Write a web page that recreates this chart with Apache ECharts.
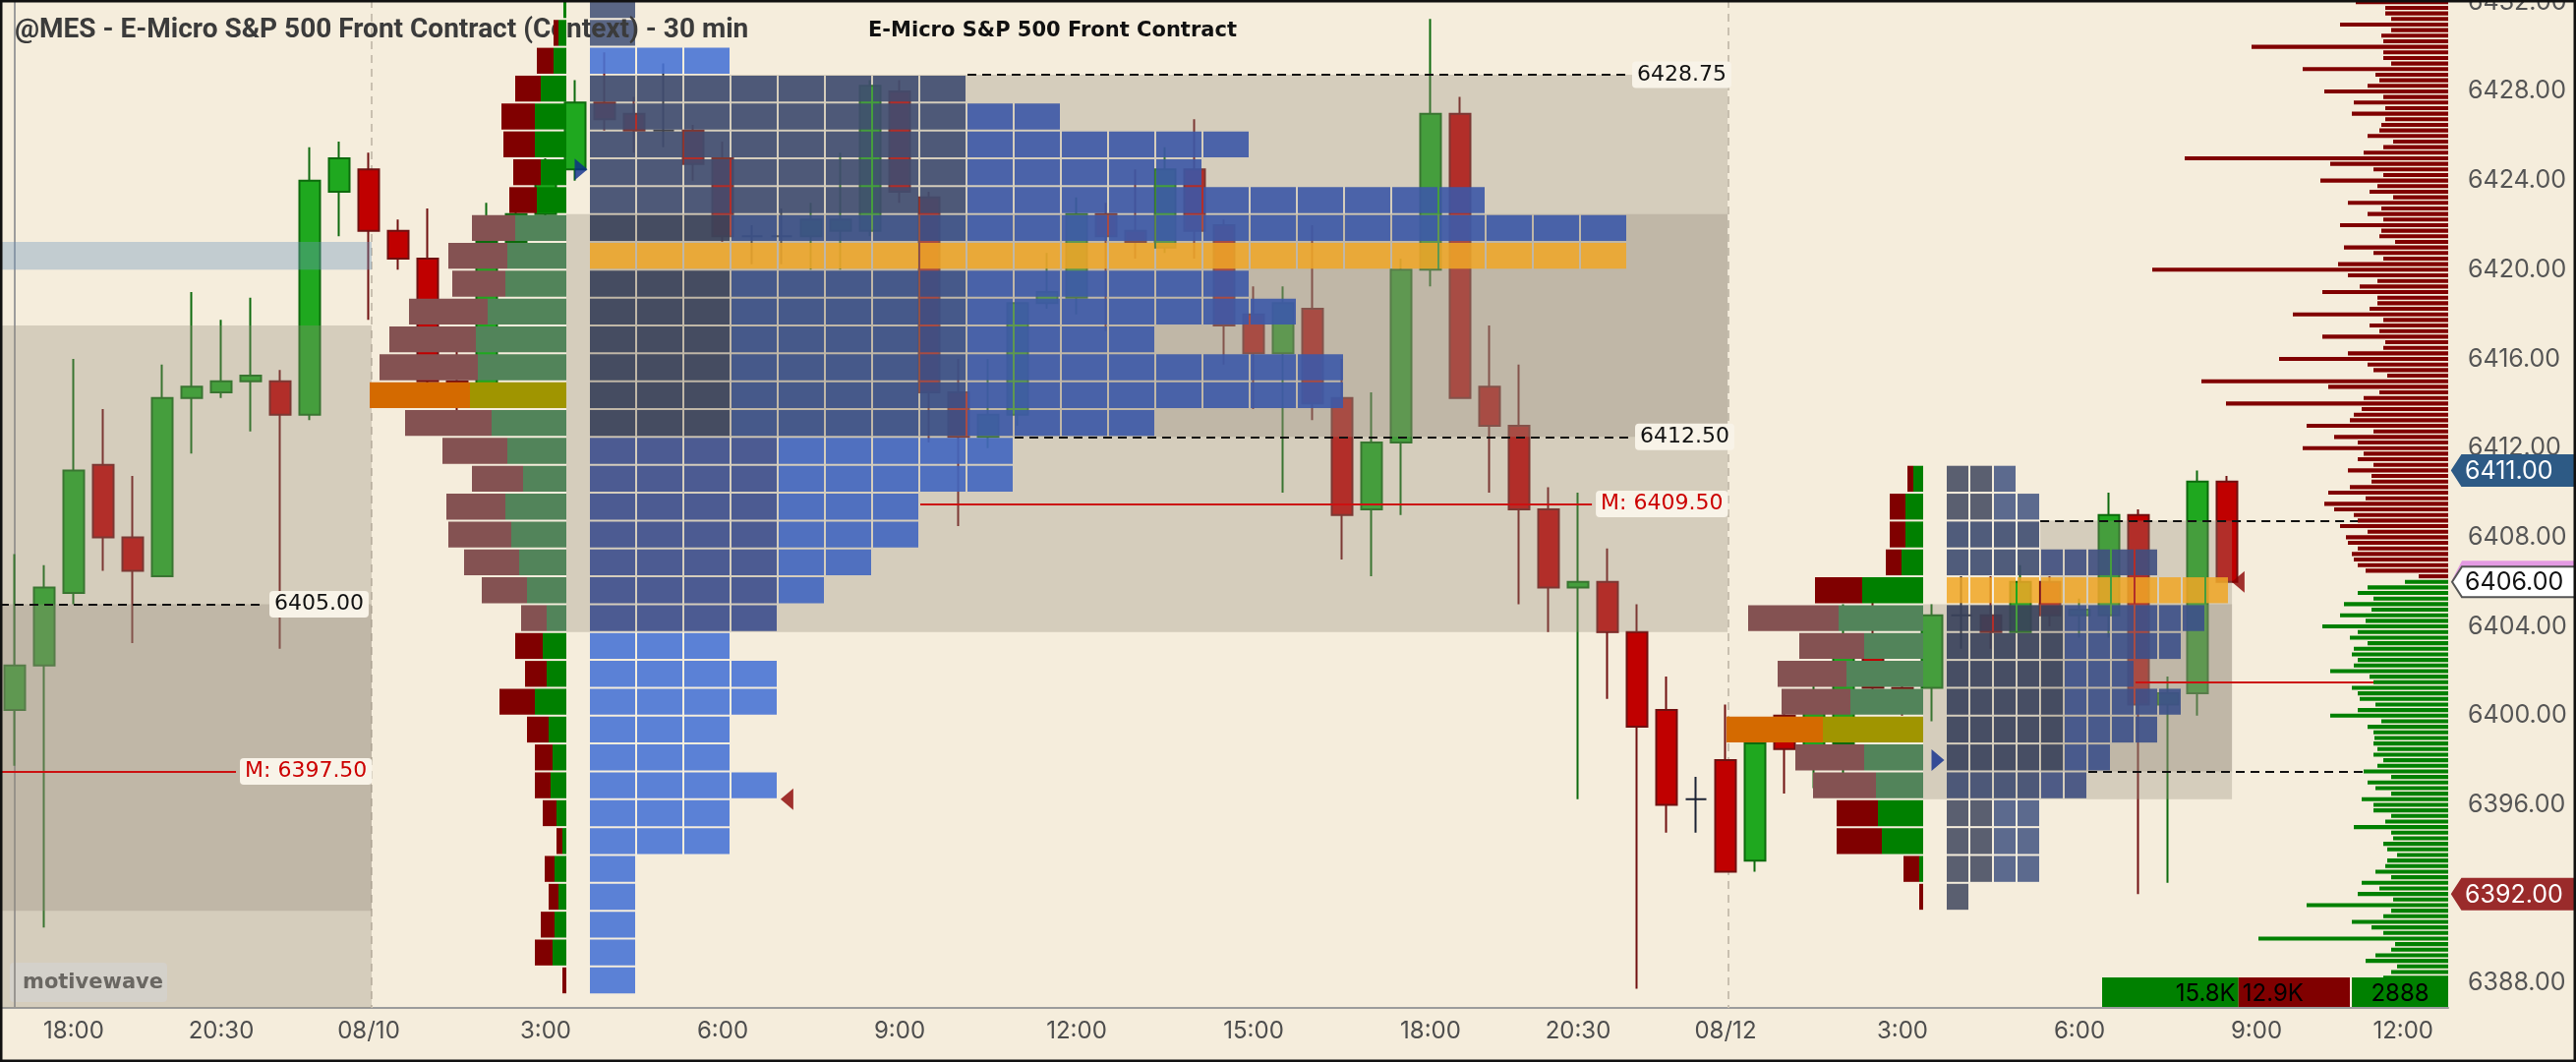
<!DOCTYPE html>
<html>
<head>
<meta charset="utf-8">
<title>@MES - 30 min</title>
<script src="https://cdn.jsdelivr.net/npm/echarts@6/dist/echarts.min.js"></script>
<style>
  html, body { margin: 0; padding: 0; background: #f5eddc; }
  #chart { width: 2620px; height: 1080px; }
</style>
</head>
<body>
<div id="chart"></div>
<script>
// ---- time axis ----
const sessions = [
  { day: '08/08', start: 17 * 60, bars: 12 },
  { day: '08/10', start: 0, bars: 46 },
  { day: '08/12', start: 0, bars: 25 }
];
const tickIndex = [2, 7, 12, 18, 24, 30, 36, 42, 48, 53, 58, 64, 70, 76, 82];
const tickText = ['18:00', '20:30', '08/10', '3:00', '6:00', '9:00', '12:00', '15:00', '18:00', '20:30', '08/12', '3:00', '6:00', '9:00', '12:00'];
const priceTicks = [6388, 6392, 6396, 6400, 6404, 6408, 6412, 6416, 6420, 6424, 6428, 6432];
const sessionBreaks = [12.1, 58.1];

// ---- 30 min candles ----
const opens = [6400.25, 6402.25, 6405.5, 6411.25, 6408.0, 6406.25, 6414.25, 6414.5, 6415.0, 6415.0,
  6413.5, 6423.5, 6424.5, 6421.75, 6420.5, 6415.0, 6414.5, 6421.25, 6422.5, 6424.5,
  6427.5, 6427.0, 6426.25, 6426.25, 6425.0, 6421.5, 6421.5, 6421.5, 6421.75, 6421.75,
  6428.0, 6423.25, 6414.5, 6412.5, 6413.5, 6418.5, 6418.75, 6422.5, 6421.75, 6421.0,
  6424.5, 6422.0, 6418.0, 6416.25, 6418.25, 6414.25, 6409.25, 6412.25, 6420.0, 6427.0,
  6414.75, 6413.0, 6409.25, 6405.75, 6406.0, 6403.75, 6400.25, 6396.25, 6398.0, 6393.5,
  6400.0, 6398.5, 6398.75, 6403.5, 6401.25, 6401.25, 6404.5, 6404.5, 6403.75, 6406.0,
  6404.5, 6404.5, 6409.0, 6400.5, 6401.0, 6410.5];
const closes = [6402.25, 6405.75, 6411.0, 6408.0, 6406.5, 6414.25, 6414.75, 6415.0, 6415.25, 6413.5,
  6424.0, 6425.0, 6421.75, 6420.5, 6415.0, 6414.25, 6421.25, 6422.5, 6424.5, 6427.5,
  6426.75, 6426.25, 6426.25, 6424.75, 6421.5, 6421.5, 6421.5, 6422.25, 6422.25, 6428.25,
  6423.5, 6414.5, 6412.5, 6413.5, 6418.5, 6419.0, 6422.5, 6421.5, 6421.25, 6424.5,
  6421.75, 6417.5, 6416.25, 6418.5, 6414.0, 6409.0, 6412.25, 6420.0, 6427.0, 6414.25,
  6413.0, 6409.25, 6405.75, 6406.0, 6403.75, 6399.5, 6396.0, 6396.25, 6393.0, 6398.75,
  6398.5, 6400.5, 6403.5, 6401.25, 6401.0, 6404.5, 6404.5, 6403.75, 6406.0, 6404.5,
  6404.75, 6409.0, 6400.5, 6401.0, 6410.5, 6406.0];
const lows = [6397.75, 6390.5, 6405.0, 6406.5, 6403.25, 6406.25, 6411.75, 6414.25, 6412.75, 6403.0,
  6413.25, 6421.5, 6417.75, 6420.0, 6414.0, 6413.5, 6414.0, 6421.0, 6422.0, 6424.0,
  6426.25, 6425.25, 6425.5, 6424.0, 6421.25, 6420.25, 6420.25, 6420.0, 6420.0, 6421.5,
  6423.0, 6412.25, 6408.5, 6412.0, 6413.0, 6418.25, 6418.0, 6417.25, 6420.5, 6420.75,
  6420.5, 6415.75, 6413.75, 6410.0, 6413.25, 6407.0, 6406.25, 6409.0, 6419.25, 6414.25,
  6410.0, 6405.0, 6403.75, 6396.25, 6400.75, 6387.75, 6394.75, 6394.75, 6393.0, 6393.0,
  6396.5, 6396.75, 6397.0, 6400.5, 6400.0, 6399.75, 6403.0, 6403.0, 6403.75, 6404.0,
  6403.5, 6403.5, 6392.0, 6392.5, 6400.0, 6406.0];
const highs = [6407.25, 6406.75, 6416.0, 6413.75, 6410.75, 6415.75, 6419.0, 6417.75, 6418.75, 6415.5,
  6425.5, 6425.75, 6425.25, 6422.25, 6422.75, 6416.5, 6423.0, 6423.5, 6425.0, 6428.5,
  6429.75, 6427.75, 6429.25, 6426.5, 6425.75, 6422.0, 6422.75, 6423.0, 6425.25, 6428.5,
  6428.5, 6423.5, 6416.0, 6416.0, 6418.5, 6420.75, 6423.25, 6423.0, 6424.5, 6425.5,
  6426.75, 6422.25, 6419.25, 6419.25, 6422.0, 6416.0, 6414.5, 6420.5, 6431.25, 6427.75,
  6417.5, 6415.75, 6410.25, 6410.0, 6407.5, 6405.0, 6401.75, 6397.25, 6400.5, 6399.0,
  6401.0, 6402.0, 6405.0, 6405.25, 6402.0, 6405.0, 6406.25, 6406.25, 6406.75, 6406.25,
  6405.25, 6410.0, 6409.25, 6401.75, 6411.0, 6410.75];

// ---- session 08/10 : rows of 1.25 pt ----
const s1Rows = [6431.25, 6430.0, 6428.75, 6427.5, 6426.25, 6425.0, 6423.75, 6422.5, 6421.25, 6420.0,
  6418.75, 6417.5, 6416.25, 6415.0, 6413.75, 6412.5, 6411.25, 6410.0, 6408.75, 6407.5,
  6406.25, 6405.0, 6403.75, 6402.5, 6401.25, 6400.0, 6398.75, 6397.5, 6396.25, 6395.0,
  6393.75, 6392.5, 6391.25, 6390.0, 6388.75, 6387.5];
const s1Tpo = [1, 1, 3, 8, 10, 14, 13, 19, 22, 22, 14, 15, 12, 16, 16, 12, 9, 9, 7, 7,
  6, 5, 4, 3, 4, 4, 3, 3, 4, 3, 3, 1, 1, 1, 1, 1];
const s1Sell = [0, 5, 17, 26, 34, 32, 28, 28, 44, 60, 54, 80, 88, 100, 102, 88, 66, 52, 60, 64,
  56, 46, 26, 28, 22, 36, 22, 18, 16, 14, 6, 10, 10, 14, 18, 4];
const s1Buy = [3, 8, 13, 26, 32, 32, 26, 30, 52, 60, 62, 80, 92, 90, 98, 76, 60, 44, 62, 56,
  48, 40, 20, 24, 20, 32, 18, 14, 16, 10, 4, 12, 8, 12, 14, 0];

// ---- session 08/12 ----
const s2Rows = [6410.0, 6408.75, 6407.5, 6406.25, 6405.0, 6403.75, 6402.5, 6401.25, 6400.0, 6398.75,
  6397.5, 6396.25, 6395.0, 6393.75, 6392.5, 6391.25];
const s2Tpo = [3, 4, 4, 9, 12, 11, 10, 8, 10, 9, 7, 6, 4, 4, 4, 1];
const s2Sell = [6, 16, 16, 16, 48, 92, 66, 70, 70, 98, 70, 64, 42, 46, 16, 4];
const s2Buy = [10, 18, 18, 22, 62, 86, 60, 78, 74, 102, 60, 48, 46, 42, 4, 0];

// ---- composite profile on the right, one row per tick from the top ----
const rightTop = 6432.0;
const rightVol = [94, 64, 64, 58, 110, 58, 68, 66, 200, 66, 66, 58, 148, 74, 70, 82, 126, 66, 96, 64,
  98, 64, 68, 70, 82, 56, 66, 86, 268, 120, 76, 66, 130, 72, 80, 56, 102, 68, 82, 66,
  110, 68, 70, 54, 106, 76, 66, 112, 301, 102, 72, 90, 128, 72, 72, 80, 158, 66, 80, 70,
  128, 64, 66, 102, 172, 82, 76, 62, 251, 122, 70, 86, 226, 88, 96, 100, 144, 76, 116, 92,
  148, 86, 92, 76, 102, 78, 78, 100, 122, 84, 126, 116, 96, 92, 110, 82,
  104, 102, 92, 98, 96, 92, 84, 30, 44, 82, 92, 76, 106, 78, 110, 84, 128, 92, 100, 82,
  96, 98, 92, 96, 120, 80, 76, 98, 92, 90, 74, 92, 120, 68, 82, 76, 75, 76, 72, 76,
  66, 72, 86, 58, 82, 74, 58, 88, 76, 76, 58, 64, 96, 58, 56, 66, 62, 52, 62, 64,
  74, 58, 88, 70, 92, 56, 144, 58, 66, 98, 78, 66, 193, 54, 58, 74, 84, 52, 58, 66];
const summaryVals = [15800, 12900, 2888];
const summaryText = ['15.8K', '12.9K', '2888'];

// ---- levels ----
const s1Va = [6403.75, 6422.5], s1Ib = [6412.5, 6428.75];
const s2Va = [6396.25, 6405.0], s2Ib = [6397.5, 6408.75];
const s1Poc = 6413.75, s1TpoPoc = 6420.0, s2Poc = 6398.75, s2TpoPoc = 6405.0;
// [x0, low, x1, high, fill]  x in bar units
const zones = [
  [-0.5, 6380, 12.1, 6417.5, 0], [-0.5, 6391.25, 12.1, 6405.0, 0], [-0.5, 6420.0, 12.1, 6421.25, 1],
  [18.7, s1Va[0], 58.07, s1Va[1], 0], [19.5, s1Ib[0], 58.07, s1Ib[1], 0],
  [64.7, s2Va[0], 75.17, s2Va[1], 0], [68.67, s2Ib[0], 75.17, s2Ib[1], 0]
];
// [x0, x1, price, kind, label]
const levels = [
  [-0.5, 8.5, 6405.0, 'dash', '6405.00'], [-0.5, 7.5, 6397.5, 'mid', 'M: 6397.50'],
  [32.3, 54.7, 6428.75, 'dash', '6428.75'], [33.9, 54.8, 6412.5, 'dash', '6412.50'],
  [30.7, 53.47, 6409.5, 'mid', 'M: 6409.50'],
  [68.67, 82.5, 6408.75, 'dash', ''], [70.3, 82.5, 6397.5, 'dash', ''], [71.9, 82.5, 6401.5, 'mid', '']
];

const ROW = 1.25;
const VOL_TO_BAR = 1 / 30;
const NBARS = 83;
const GRID = { left: 0, right: 130, top: 0, bottom: 55 };
const lastPrice = closes[closes.length - 1];

const barTimes = [];
sessions.forEach(s => {
  for (let k = 0; k < s.bars; k++) {
    const m = s.start + k * 30;
    barTimes.push(s.day + ' ' + Math.floor(m / 60) + ':' + String(m % 60).padStart(2, '0'));
  }
});

const tpoCfg = [
  { start: 19.5, cellW: 1.6, rows: s1Rows, counts: s1Tpo },
  { start: 65.5, cellW: 0.8, rows: s2Rows, counts: s2Tpo }
];

// cell colours are the on-screen shades; solve the fill so that it lands on them over the zone below
const TPO_A = 0.9;
const under = [[245, 237, 220], [213, 205, 189], [192, 183, 168]];
function cellFill(hex, layers) {
  const n = parseInt(hex.slice(1), 16), t = [n >> 16, (n >> 8) & 255, n & 255], b = under[layers];
  const c = t.map((v, i) => Math.max(0, Math.min(255, Math.round((v - (1 - TPO_A) * b[i]) / TPO_A))));
  return 'rgba(' + c.join(',') + ',' + TPO_A + ')';
}
const POC_FILL = 'rgba(240,166,38,0.86)';
function inside(p, r) { return p >= r[0] && p < r[1]; }
function tpoColor(s, lo, c) {
  if (s === 0) {
    if (lo === s1TpoPoc) return POC_FILL;
    const a = inside(lo, s1Ib), b = inside(lo, s1Va);
    if (a && b) return cellFill(c < 3 ? '#454c62' : c < 8 ? '#46598a' : '#4962a8', 2);
    if (a) return cellFill(c < 8 ? '#4e5a78' : '#4b64a8', 1);
    if (b) return cellFill(c < 4 ? '#4c5c92' : '#5070bf', 1);
    return cellFill(lo > s1Ib[1] && c < 2 ? '#5a6684' : '#5b80d6', 0);
  }
  if (lo === s2TpoPoc) return POC_FILL;
  const a = inside(lo, s2Ib), b = inside(lo, s2Va);
  if (a && b) return cellFill(c < 5 ? '#454c62' : '#495a8c', 2);
  if (a || b) return cellFill(c < 4 ? '#4d5878' : '#4e5c86', 1);
  return cellFill(c < 2 ? '#5a5f70' : '#5c6a8e', 0);
}

function tpoRender(params, api) {
  const s = api.value(3), cfg = tpoCfg[s];
  const lo = api.value(1), n = api.value(2);
  const y0 = api.coord([cfg.start, lo + ROW])[1] + 1;
  const y1 = api.coord([cfg.start, lo])[1] - 1;
  const children = [];
  for (let c = 0; c < n; c++) {
    const xa = api.coord([cfg.start + c * cfg.cellW, lo])[0];
    const xb = api.coord([cfg.start + (c + 1) * cfg.cellW, lo])[0] - 2;
    children.push({ type: 'rect', shape: { x: xa, y: y0, width: xb - xa, height: y1 - y0 },
      style: { fill: tpoColor(s, lo, c) } });
  }
  return { type: 'group', children: children };
}

function profileRender(va, poc) {
  return function (params, api) {
    const anchor = api.value(0), lo = api.value(1), sell = api.value(2), buy = api.value(3);
    const yTop = api.coord([anchor, lo + ROW])[1] + 1;
    const yBot = api.coord([anchor, lo])[1] - 1;
    const xR = api.coord([anchor, lo])[0];
    const xM = api.coord([anchor - buy * VOL_TO_BAR, lo])[0];
    const xL = api.coord([anchor - (buy + sell) * VOL_TO_BAR, lo])[0];
    let sc = '#800000', bc = '#008000';
    if (lo === poc) { sc = '#d46a00'; bc = '#a09500'; }
    else if (lo >= va[0] && lo < va[1]) { sc = '#845252'; bc = '#52845a'; }
    return { type: 'group', children: [
      { type: 'rect', shape: { x: xL, y: yTop, width: xM - xL, height: yBot - yTop }, style: { fill: sc } },
      { type: 'rect', shape: { x: xM, y: yTop, width: xR - xM, height: yBot - yTop }, style: { fill: bc } }
    ] };
  };
}

function rightRender(params, api) {
  const anchor = api.value(0), p = api.value(1), v = api.value(2);
  const c = api.coord([anchor, p]);
  const xl = api.coord([anchor - v * VOL_TO_BAR, p])[0];
  const h = api.size([0, 0.18])[1];
  return { type: 'rect', shape: { x: xl, y: c[1] - h / 2, width: c[0] - xl, height: h },
    style: { fill: p > lastPrice ? '#800000' : '#008000' } };
}

const zoneFills = ['rgba(150,140,125,0.33)', 'rgba(110,150,190,0.38)'];
function zoneRender(params, api) {
  const a = api.coord([api.value(0), api.value(3)]);
  const b = api.coord([api.value(2), api.value(1)]);
  return { type: 'rect', shape: { x: a[0], y: a[1], width: b[0] - a[0], height: b[1] - a[1] },
    style: { fill: zoneFills[api.value(4)] } };
}

function breakRender(params, api) {
  const cs = params.coordSys;
  const x = api.coord([api.value(0), 6400])[0];
  return { type: 'line', shape: { x1: x, y1: cs.y, x2: x, y2: cs.y + cs.height },
    style: { stroke: '#c9c0b0', lineWidth: 2, lineDash: [8, 6] } };
}

// price badges right of the axis line
const sessHigh = Math.max.apply(null, highs.slice(58));
const sessLow = Math.min.apply(null, lows.slice(58));
const badges = [
  [sessHigh, '#2d5a85', '#ffffff', '#2d5a85'],
  [lastPrice, '#ffffff', '#111111', '#555555'],
  [sessLow, '#9a2b2b', '#ffffff', '#9a2b2b']
];
function badgeRender(params, api) {
  const cs = params.coordSys;
  const k = api.value(1);
  const b = badges[k];
  const y = api.coord([0, b[0]])[1];
  const x0 = cs.x + cs.width + 4, w = 116, h = 31, tip = 10;
  const children = [];
  if (b[0] === lastPrice) {
    children.push({ type: 'polygon', shape: { points: [[x0, y - 2], [x0 + tip, y - h / 2 - 6], [x0 + w + 10, y - h / 2 - 6], [x0 + w + 10, y]] },
      style: { fill: '#e39ae3' } });
  }
  children.push({ type: 'polygon', shape: { points: [[x0, y], [x0 + tip, y - h / 2], [x0 + w + 10, y - h / 2], [x0 + w + 10, y + h / 2], [x0 + tip, y + h / 2]] },
    style: { fill: b[1], stroke: b[3], lineWidth: 2 } });
  children.push({ type: 'text', x: x0 + tip + 3, y: y + 1, style: { text: b[0].toFixed(2), fill: b[2],
    fontFamily: 'Inter', fontSize: 25, verticalAlign: 'middle' } });
  return { type: 'group', children: children };
}

// open / close markers beside each TPO
function rowOf(cfg, price) {
  let k = 0;
  while (k < cfg.rows.length - 1 && cfg.rows[k] > price) k++;
  return k;
}
const markers = [];
[[12, 57], [58, 75]].forEach((b, s) => {
  const cfg = tpoCfg[s];
  markers.push({ value: [cfg.start - 0.3, opens[b[0]]], symbolRotate: -90, itemStyle: { color: '#0b2a8c' } });
  const k = rowOf(cfg, closes[b[1]]);
  markers.push({ value: [cfg.start + cfg.counts[k] * cfg.cellW + 0.28, closes[b[1]]], symbolRotate: 90, itemStyle: { color: '#8b0000' } });
});

const levelLines = levels.map(l => {
  const dash = l[3] === 'dash';
  return [{
    coord: [l[0], l[2]],
    lineStyle: { color: dash ? '#111' : '#cc1111', width: 2, type: dash ? [9, 6] : 'solid' },
    label: {
      show: l[4] !== '', position: 'end', formatter: l[4], distance: 4,
      color: dash ? '#111' : '#cc0000', fontFamily: 'DejaVu Sans', fontSize: 22,
      backgroundColor: '#f8f3e8', padding: [3, 5, 2, 5], borderRadius: 4
    }
  }, { coord: [l[1], l[2]] }];
});

const chart = echarts.init(document.getElementById('chart'));
const gx = 2620 - GRID.right, gy = 1080 - GRID.bottom;
const pxPerK = 0.00878;
const wBuy = summaryVals[0] * pxPerK, wSell = summaryVals[1] * pxPerK, wDelta = 98;

const option = {
  backgroundColor: '#f5eddc',
  animation: false,
  title: [
    { text: '@MES - E-Micro S&P 500 Front Contract (Context) - 30 min', left: 10, top: 12, z: 5,
      textStyle: { fontFamily: 'Roboto', fontSize: 28, fontWeight: 'bold', color: '#3b3b3b' } },
    { text: 'E-Micro S&P 500 Front Contract', left: 878, top: 16, z: 5,
      textStyle: { fontFamily: 'DejaVu Sans', fontSize: 21, fontWeight: 'bold', color: '#111' } }
  ],
  grid: { left: GRID.left, right: GRID.right, top: GRID.top, bottom: GRID.bottom,
    containLabel: false, outerBoundsMode: 'none' },
  xAxis: [
    {
      type: 'category', data: barTimes, boundaryGap: true,
      axisLine: { show: true, lineStyle: { color: '#9c9c9c', width: 2 } },
      axisTick: { show: false },
      axisLabel: {
        interval: (idx) => tickIndex.includes(idx),
        formatter: (v, idx) => tickText[tickIndex.indexOf(idx)],
        color: '#4d4d4d', fontFamily: 'Inter', fontSize: 24, margin: 12, alignMaxLabel: 'right'
      },
      splitLine: { show: false }
    },
    { type: 'value', min: -0.5, max: NBARS - 0.5, show: false }
  ],
  yAxis: {
    type: 'value', position: 'right', min: 6386.89, max: 6432.1,
    axisLine: { show: true, lineStyle: { color: '#9c9c9c', width: 2 } },
    axisTick: { show: false, customValues: priceTicks },
    axisLabel: { customValues: priceTicks, formatter: v => v.toFixed(2), color: '#555',
      fontFamily: 'Inter', fontSize: 25, margin: 20 },
    splitLine: { show: false }
  },
  series: [
    { type: 'custom', xAxisIndex: 1, z: 1, renderItem: breakRender, data: sessionBreaks.map(x => [x, 6400]),
      encode: { x: 0, y: 1 } },
    {
      type: 'candlestick', xAxisIndex: 0, z: 2, barWidth: 21,
      data: opens.map((o, i) => [o, closes[i], lows[i], highs[i]]),
      itemStyle: { color: '#1fa81f', color0: '#c00000', borderColor: '#0d6a0d', borderColor0: '#701010',
        borderColorDoji: '#1b2233', borderWidth: 2 }
    },
    { type: 'custom', xAxisIndex: 1, z: 3, clip: true, renderItem: zoneRender, data: zones, encode: { x: 0, y: 1 } },
    {
      type: 'custom', xAxisIndex: 1, z: 4, clip: true, renderItem: tpoRender, encode: { x: 0, y: 1 },
      data: s1Rows.map((p, k) => [tpoCfg[0].start, p, s1Tpo[k], 0])
        .concat(s2Rows.map((p, k) => [tpoCfg[1].start, p, s2Tpo[k], 1]))
    },
    { type: 'custom', xAxisIndex: 1, z: 6, clip: true, renderItem: profileRender(s1Va, s1Poc), encode: { x: 0, y: 1 },
      data: s1Rows.map((p, k) => [18.7, p, s1Sell[k], s1Buy[k]]) },
    { type: 'custom', xAxisIndex: 1, z: 6, clip: true, renderItem: profileRender(s2Va, s2Poc), encode: { x: 0, y: 1 },
      data: s2Rows.map((p, k) => [64.7, p, s2Sell[k], s2Buy[k]]) },
    { type: 'custom', xAxisIndex: 1, z: 6, clip: true, renderItem: rightRender, encode: { x: 0, y: 1 },
      data: rightVol.map((v, k) => [NBARS - 0.5, rightTop - k * 0.25, v]) },
    {
      type: 'scatter', xAxisIndex: 1, z: 8, symbol: 'triangle', symbolSize: [22, 13], data: markers,
      markLine: { silent: true, symbol: ['none', 'none'], data: levelLines, animation: false }
    },
    { type: 'custom', xAxisIndex: 1, z: 9, clip: false, renderItem: badgeRender, encode: { x: 0, y: 2 },
      data: badges.map((b, k) => [NBARS - 0.5, k, b[0]]) }
  ],
  graphic: [
    { type: 'group', left: 10, top: 979, z: 20, children: [
      { type: 'rect', shape: { x: 0, y: 0, width: 160, height: 40, r: 4 }, style: { fill: '#f4f3f0' } },
      { type: 'text', x: 13, y: 21, style: { text: 'motivewave', fontFamily: 'DejaVu Sans', fontWeight: 'bold',
        fontSize: 21, fill: '#555', verticalAlign: 'middle' } }
    ] },
    { type: 'group', z: 20, children: [
      { type: 'rect', shape: { x: gx - wDelta - 2 - wSell - wBuy, y: gy - 31, width: wBuy, height: 31 }, style: { fill: '#008000' } },
      { type: 'rect', shape: { x: gx - wDelta - 2 - wSell, y: gy - 31, width: wSell, height: 31 }, style: { fill: '#800000' } },
      { type: 'rect', shape: { x: gx - wDelta, y: gy - 31, width: wDelta, height: 31 }, style: { fill: '#008000' } },
      { type: 'text', x: gx - wDelta - 2 - wSell - 3, y: gy - 14, style: { text: summaryText[0], fill: '#000',
        fontFamily: 'Inter', fontSize: 24, align: 'right', verticalAlign: 'middle' } },
      { type: 'text', x: gx - wDelta - 2 - wSell + 4, y: gy - 14, style: { text: summaryText[1], fill: '#000',
        fontFamily: 'Inter', fontSize: 24, align: 'left', verticalAlign: 'middle' } },
      { type: 'text', x: gx - wDelta / 2, y: gy - 14, style: { text: summaryText[2], fill: '#000',
        fontFamily: 'Inter', fontSize: 24, align: 'center', verticalAlign: 'middle' } }
    ] },
    { type: 'rect', z: 30, silent: true, shape: { x: 1, y: 1, width: 2618, height: 1078 },
      style: { fill: 'none', stroke: '#111', lineWidth: 3 } }
  ]
};
chart.setOption(option);
</script>
</body>
</html>
